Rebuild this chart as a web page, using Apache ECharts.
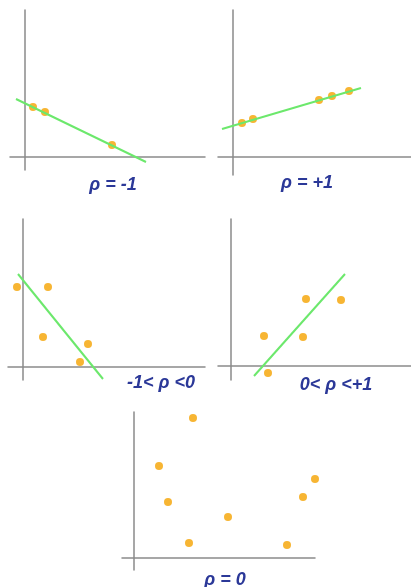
<!DOCTYPE html>
<html>
<head>
<meta charset="utf-8">
<script src="https://cdn.jsdelivr.net/npm/echarts@6/dist/echarts.min.js"></script>
<style>
  html, body { margin: 0; padding: 0; background: #fff; }
  #main { width: 411px; height: 587px; }
</style>
</head>
<body>
<div id="main"></div>
<script>
// data per panel (units: axis origin = 0)
var labels = ['ρ = -1', 'ρ = +1', '-1< ρ <0', '0< ρ <+1', 'ρ = 0'];

var points1 = [[0.8, 5.0], [2.0, 4.5], [8.7, 1.2]];
var fit1 = [[-0.9, 5.8], [12.1, -0.5]];

var points2 = [[0.9, 3.4], [2.0, 3.8], [8.6, 5.7], [9.9, 6.1], [11.6, 6.6]];
var fit2 = [[-1.1, 2.8], [12.8, 6.9]];

var points3 = [[-0.6, 8.0], [2.5, 8.0], [2.0, 3.0], [6.5, 2.3], [5.7, 0.5]];
var fit3 = [[-0.5, 9.3], [8.0, -1.2]];

var points4 = [[3.3, 3.0], [7.5, 6.7], [11.0, 6.6], [7.2, 2.9], [3.7, -0.7]];
var fit4 = [[2.3, -1.0], [11.4, 9.2]];

var points5 = [[5.9, 14.0], [2.5, 9.2], [3.4, 5.6], [5.5, 1.5], [9.4, 4.1], [15.3, 1.3], [16.9, 6.1], [18.1, 7.9]];

// layout
var panels = [
  { grid: { left: 10, top: 10, width: 195, height: 160 }, x: [-1.5, 18], y: [-1.3, 14.7], pts: points1, fit: fit1, label: [113, 185] },
  { grid: { left: 218, top: 10, width: 193, height: 165 }, x: [-1.5, 17.8], y: [-1.8, 14.7], pts: points2, fit: fit2, label: [307, 183] },
  { grid: { left: 8, top: 219, width: 197, height: 161 }, x: [-1.5, 18.2], y: [-1.3, 14.8], pts: points3, fit: fit3, label: [161, 383] },
  { grid: { left: 218, top: 219, width: 193, height: 161 }, x: [-1.3, 18.0], y: [-1.4, 14.7], pts: points4, fit: fit4, label: [336, 385] },
  { grid: { left: 122, top: 412, width: 193, height: 158 }, x: [-1.2, 18.1], y: [-1.2, 14.6], pts: points5, fit: null, label: [225, 580] }
];

var axisStyle = { show: true, onZero: true, lineStyle: { color: '#8a8a8a', width: 1.5 } };

var grids = [], xAxes = [], yAxes = [], series = [], texts = [];
panels.forEach(function (p, i) {
  grids.push(p.grid);
  xAxes.push({
    type: 'value', gridIndex: i, min: p.x[0], max: p.x[1],
    axisLine: axisStyle, axisTick: { show: false }, axisLabel: { show: false }, splitLine: { show: false }
  });
  yAxes.push({
    type: 'value', gridIndex: i, min: p.y[0], max: p.y[1],
    axisLine: axisStyle, axisTick: { show: false }, axisLabel: { show: false }, splitLine: { show: false }
  });
  if (p.fit) {
    series.push({
      type: 'line', xAxisIndex: i, yAxisIndex: i, data: p.fit,
      symbol: 'none', silent: true,
      lineStyle: { color: '#6ce86c', width: 2 }
    });
  }
  series.push({
    type: 'scatter', xAxisIndex: i, yAxisIndex: i, data: p.pts,
    symbolSize: 8, clip: false,
    itemStyle: { color: '#f5a200' }
  });
  texts.push({
    type: 'text', x: p.label[0], y: p.label[1],
    style: {
      text: labels[i], fill: '#2b3898',
      font: 'italic bold 18px "Liberation Sans", Arial, sans-serif',
      textAlign: 'center', textVerticalAlign: 'middle'
    }
  });
});

var chart = echarts.init(document.getElementById('main'));
chart.setOption({
  animation: false,
  backgroundColor: '#fff',
  grid: grids,
  xAxis: xAxes,
  yAxis: yAxes,
  series: series,
  graphic: texts
});
</script>
</body>
</html>
